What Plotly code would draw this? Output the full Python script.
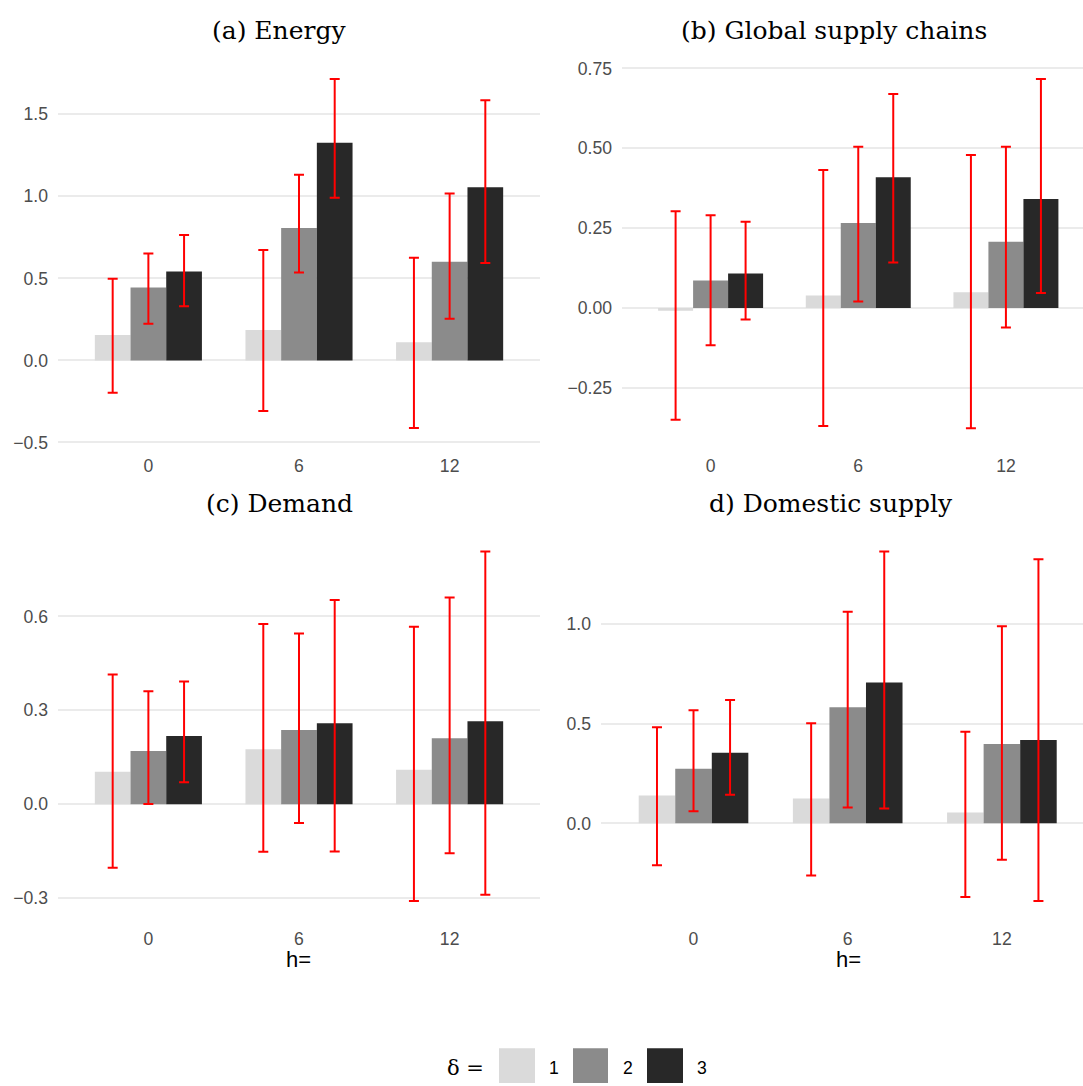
import plotly.graph_objects as go

W, H = 1083, 1086

horizons = ["0", "6", "12"]
deltas = ["1", "2", "3"]
bar_colors = ["#DADADA", "#8B8B8B", "#282828"]

# Panel (a) Energy: estimates, lower and upper bounds per delta (rows) and horizon (cols)
energy_est = [[0.155, 0.185, 0.111], [0.445, 0.807, 0.602], [0.542, 1.327, 1.055]]
energy_lo = [[-0.197, -0.308, -0.412], [0.224, 0.536, 0.254], [0.330, 0.991, 0.594]]
energy_hi = [[0.497, 0.673, 0.626], [0.652, 1.131, 1.017], [0.765, 1.715, 1.586]]

# Panel (b) Global supply chains
gsc_est = [[-0.009, 0.039, 0.049], [0.086, 0.266, 0.207], [0.108, 0.409, 0.341]]
gsc_lo = [[-0.350, -0.370, -0.377], [-0.117, 0.020, -0.061], [-0.036, 0.142, 0.047]]
gsc_hi = [[0.303, 0.432, 0.479], [0.290, 0.505, 0.505], [0.270, 0.670, 0.717]]

# Panel (c) Demand
dem_est = [[0.104, 0.176, 0.110], [0.170, 0.237, 0.211], [0.218, 0.259, 0.265]]
dem_lo = [[-0.203, -0.152, -0.309], [0.001, -0.060, -0.157], [0.070, -0.151, -0.289]]
dem_hi = [[0.414, 0.576, 0.567], [0.361, 0.545, 0.660], [0.392, 0.652, 0.807]]

# Panel (d) Domestic supply
dom_est = [[0.140, 0.125, 0.055], [0.274, 0.583, 0.399], [0.354, 0.708, 0.419]]
dom_lo = [[-0.211, -0.262, -0.370], [0.061, 0.080, -0.183], [0.144, 0.075, -0.390]]
dom_hi = [[0.482, 0.503, 0.460], [0.568, 1.063, 0.990], [0.619, 1.365, 1.327]]

panels = [
    dict(title="(a) Energy", est=energy_est, lo=energy_lo, hi=energy_hi,
         xd=(58, 1083 * 540 / 1083), xr=(-0.6, 2.6), yd=(60, 446.5), yr=(-0.518, 1.816),
         tv=[-0.5, 0, 0.5, 1.0, 1.5], tf=".1f", tx=279, ty=28, hx=None),
    dict(title="(b) Global supply chains", est=gsc_est, lo=gsc_lo, hi=gsc_hi,
         xd=(622, 1083), xr=(-0.6, 2.522), yd=(59, 447), yr=(-0.432, 0.772),
         tv=[-0.25, 0, 0.25, 0.5, 0.75], tf=".2f", tx=834, ty=28, hx=None),
    dict(title="(c) Demand", est=dem_est, lo=dem_lo, hi=dem_hi,
         xd=(58, 540), xr=(-0.6, 2.6), yd=(536, 924), yr=(-0.365, 0.863),
         tv=[-0.3, 0, 0.3, 0.6], tf=".1f", tx=279, ty=505, hx=299),
    dict(title="d) Domestic supply", est=dom_est, lo=dom_lo, hi=dom_hi,
         xd=(601, 1083), xr=(-0.6, 2.526), yd=(536, 924), yr=(-0.478, 1.453),
         tv=[0, 0.5, 1.0], tf=".1f", tx=831, ty=505, hx=848),
]

fig = go.Figure()
layout = dict(
    width=W, height=H, margin=dict(l=0, r=0, t=0, b=0),
    paper_bgcolor="white", plot_bgcolor="white",
    barmode="group", bargap=0.289, bargroupgap=0,
    showlegend=False,
    annotations=[], shapes=[],
)

tick_font = dict(family="Liberation Sans, Arial, sans-serif", size=17.6, color="#4D4D4D")

for i, p in enumerate(panels):
    n = i + 1
    xa = "x" if n == 1 else f"x{n}"
    ya = "y" if n == 1 else f"y{n}"
    for d in range(3):
        est = p["est"][d]
        up = [h - e for h, e in zip(p["hi"][d], est)]
        dn = [e - l for e, l in zip(est, p["lo"][d])]
        fig.add_trace(go.Bar(
            x=horizons, y=est, name=deltas[d], xaxis=xa, yaxis=ya,
            marker=dict(color=bar_colors[d], line=dict(width=0)),
            offsetgroup=str(d),
            error_y=dict(type="data", array=up, arrayminus=dn, symmetric=False,
                         color="#FF0000", thickness=2, width=5, visible=True),
            showlegend=False,
        ))
    xkey = "xaxis" if n == 1 else f"xaxis{n}"
    ykey = "yaxis" if n == 1 else f"yaxis{n}"
    layout[xkey] = dict(
        domain=[p["xd"][0] / W, p["xd"][1] / W], anchor=ya,
        type="category", categoryorder="array", categoryarray=horizons,
        range=list(p["xr"]), showgrid=False, zeroline=False, showline=False,
        ticks="", tickfont=tick_font, ticklabelstandoff=8,
    )
    layout[ykey] = dict(
        domain=[1 - p["yd"][1] / H, 1 - p["yd"][0] / H], anchor=xa,
        range=list(p["yr"]), tickvals=p["tv"], tickformat=p["tf"],
        showgrid=True, gridcolor="#EBEBEB", gridwidth=2,
        zeroline=False, showline=False, ticks="", tickfont=tick_font,
        ticklabelstandoff=9,
    )
    layout["annotations"].append(dict(
        text=p["title"], x=p["tx"] / W, y=1 - p["ty"] / H, xref="paper", yref="paper",
        xanchor="center", yanchor="middle", showarrow=False,
        font=dict(family="DejaVu Serif, serif", size=25, color="black"),
    ))
    if p["hx"] is not None:
        layout["annotations"].append(dict(
            text="h=", x=p["hx"] / W, y=1 - 965 / H, xref="paper", yref="paper",
            xanchor="center", yanchor="middle", showarrow=False,
            font=dict(family="Liberation Sans, Arial, sans-serif", size=22, color="black"),
        ))

# Legend drawn manually (large key boxes like the reference)
layout["annotations"].append(dict(
    text="δ =", x=465 / W, y=1 - 1075 / H, xref="paper", yref="paper",
    xanchor="center", yanchor="middle", showarrow=False,
    font=dict(family="DejaVu Serif, serif", size=21, color="black"),
))
key_x = [(499, 535), (573, 608), (647, 683)]
lab_x = [553.5, 628, 701.5]
for d in range(3):
    layout["shapes"].append(dict(
        type="rect", xref="paper", yref="paper",
        x0=key_x[d][0] / W, x1=key_x[d][1] / W, y0=1 - 1090 / H, y1=1 - 1055 / H,
        fillcolor=bar_colors[d], line=dict(width=0),
    ))
    layout["annotations"].append(dict(
        text=deltas[d], x=lab_x[d] / W, y=1 - 1075 / H, xref="paper", yref="paper",
        xanchor="center", yanchor="middle", showarrow=False,
        font=dict(family="Liberation Sans, Arial, sans-serif", size=17.6, color="black"),
    ))

fig.update_layout(**layout)
fig.write_html("out.html")
